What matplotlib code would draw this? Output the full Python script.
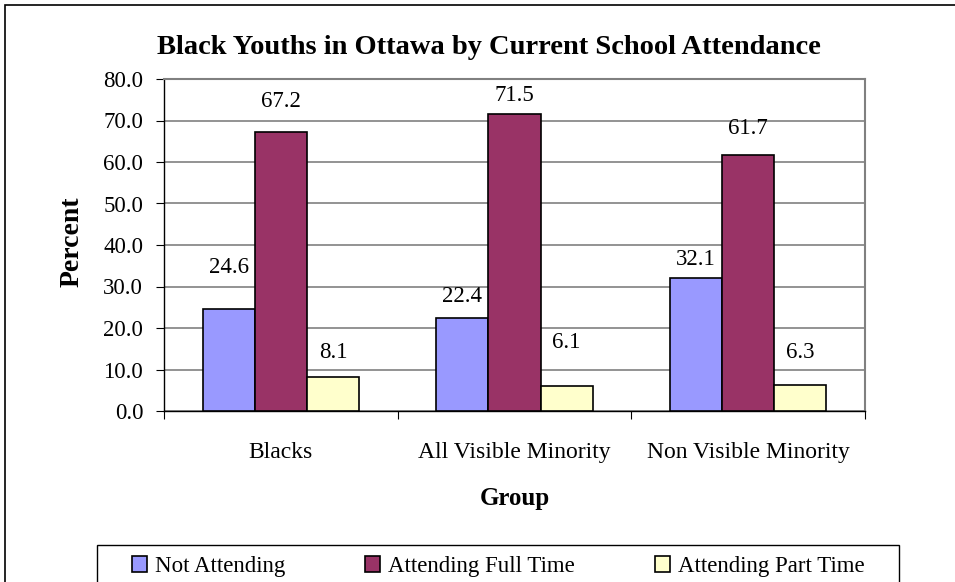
import numpy as np
import matplotlib.pyplot as plt
from matplotlib.patches import Rectangle

plt.rcParams['font.family'] = ['Liberation Serif', 'DejaVu Serif']

groups = ['Blacks', 'All Visible Minority', 'Non Visible Minority']
series = ['Not Attending', 'Attending Full Time', 'Attending Part Time']
not_attending = [24.6, 22.4, 32.1]
full_time = [67.2, 71.5, 61.7]
part_time = [8.1, 6.1, 6.3]
colors = ['#9999FF', '#993366', '#FFFFCC']

# label lift above each bar (the original labels were nudged by hand)
label_lift = [[9.9, 5.1, 4.5], [7.3, 4.6, 6.3], [6.1, 10.5, 7.7]]

W, H = 955, 582
fig = plt.figure(figsize=(W / 100, H / 100), dpi=100)
ax = fig.add_axes([164 / W, 1 - 411 / H, 701 / W, 332 / H])

# outer chart border (cropped at right/bottom in the original)
fig.patches.append(Rectangle((5 / W, -0.1), 1.2, 1 - 5 / H + 0.1,
                             transform=fig.transFigure, fill=False,
                             edgecolor='black', lw=1.2))
# legend box, also running off the bottom
fig.patches.append(Rectangle((97 / W, -0.1), 802 / W, 1 - 545 / H + 0.1,
                             transform=fig.transFigure, fill=False,
                             edgecolor='black', lw=1.0))

x = np.arange(len(groups))
w = 0.223
for i, (vals, c) in enumerate(zip([not_attending, full_time, part_time], colors)):
    pos = x + (i - 1) * w
    ax.bar(pos, vals, w, color=c, edgecolor='black', lw=1.2, label=series[i], zorder=3)
    for p, v, d in zip(pos, vals, label_lift[i]):
        ax.text(p, v + d, '%.1f' % v, ha='center', va='center', fontsize=16.5)

ax.set_xlim(-0.5, 2.5)
ax.set_ylim(0, 80)
ax.set_yticks(np.arange(0, 81, 10))
ax.set_yticklabels(['%.1f' % t for t in np.arange(0, 81, 10)], fontsize=16.5)
ax.yaxis.grid(True, color='#808080', lw=1.2, zorder=0)
ax.set_xticks([-0.5, 0.5, 1.5, 2.5])
ax.set_xticklabels([])
ax.set_xticks(x, minor=True)
ax.set_xticklabels(groups, minor=True, fontsize=17)
ax.tick_params(axis='x', which='minor', length=0, pad=22)
ax.tick_params(axis='x', which='major', length=6, direction='out')
ax.tick_params(axis='y', length=6, direction='out', pad=9)

for s in ['top', 'right']:
    ax.spines[s].set_color('#808080')
    ax.spines[s].set_linewidth(1.5)
for s in ['left', 'bottom']:
    ax.spines[s].set_color('black')
    ax.spines[s].set_linewidth(1.0)

fig.text(72 / W, 1 - 242 / H, 'Percent', rotation=90, ha='center', va='center',
         fontsize=20, fontweight='bold')
fig.text(515 / W, 1 - 499 / H, 'Group', ha='center', va='center',
         fontsize=18, fontweight='bold')
fig.text(489 / W, 1 - 47 / H, 'Black Youths in Ottawa by Current School Attendance',
         ha='center', va='center', fontsize=20.5, fontweight='bold')

leg = fig.legend(loc='upper left', bbox_to_anchor=(132 / W, 1 - 556 / H), ncol=3,
                 frameon=False, fontsize=16.5, handlelength=0.65,
                 handleheight=0.65, handletextpad=0.35, columnspacing=3.5,
                 borderaxespad=0, borderpad=0)

fig.savefig('out.png', dpi=100)
